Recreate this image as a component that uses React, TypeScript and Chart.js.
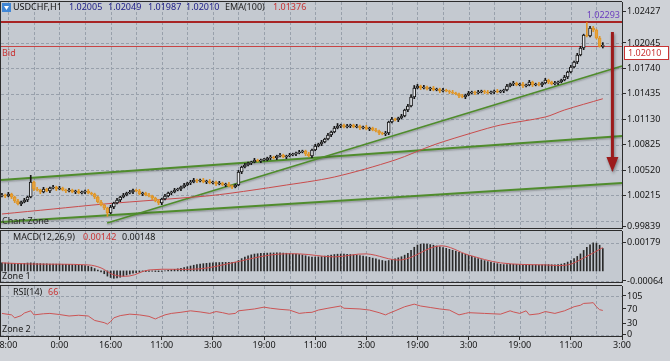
import React, { useEffect, useRef } from 'react';
import { Chart, registerables } from 'chart.js';

Chart.register(...registerables);

const FONT = '"Noto Sans", "DejaVu Sans", sans-serif';
const PIP = 0.0001;

// ---------------- data ----------------
const firstBar = -2; // bar index of the first candle (bar 0 = "8:00")
const firstOpen = 1.00209;
const closes = [
  1.00221, 1.00209, 1.00233, 1.00197, 1.00149, 1.00113, 1.00137, 1.00161, 1.00197, 1.00377,
  1.00293, 1.00281, 1.00257, 1.00293, 1.00269, 1.00305, 1.00317, 1.00293, 1.00305, 1.00281,
  1.00269, 1.00281, 1.00257, 1.00269, 1.00245, 1.00257, 1.00269, 1.00245, 1.00233, 1.00197,
  1.00137, 1.00101, 1.00065, 1.00005, 1.00077, 1.00125, 1.00161, 1.00197, 1.00221, 1.00245,
  1.00257, 1.00281, 1.00269, 1.00233, 1.00245, 1.00221, 1.00209, 1.00185, 1.00149, 1.00125,
  1.00173, 1.00209, 1.00245, 1.00257, 1.00281, 1.00293, 1.00317, 1.00341, 1.00365, 1.00377,
  1.00401, 1.00389, 1.00401, 1.00377, 1.00389, 1.00365, 1.00377, 1.00353, 1.00365, 1.00341,
  1.00353, 1.00329, 1.00317, 1.00341, 1.00497, 1.00557, 1.00581, 1.00605, 1.00617, 1.00641,
  1.00629, 1.00641, 1.00641, 1.00665, 1.00677, 1.00665, 1.00689, 1.00701, 1.00677, 1.00689,
  1.00701, 1.00713, 1.00725, 1.00737, 1.00749, 1.00713, 1.00689, 1.00761, 1.00809, 1.00833,
  1.00857, 1.00893, 1.00941, 1.00977, 1.01025, 1.01049, 1.01061, 1.01037, 1.01049, 1.01061,
  1.01037, 1.01049, 1.01025, 1.01037, 1.01013, 1.01025, 1.01001, 1.00989, 1.00965, 1.00953,
  1.00965, 1.01097, 1.01133, 1.01121, 1.01145, 1.01169, 1.01241, 1.01289, 1.01397, 1.01505,
  1.01529, 1.01505, 1.01517, 1.01493, 1.01505, 1.01481, 1.01493, 1.01469, 1.01481, 1.01469,
  1.01457, 1.01445, 1.01433, 1.01409, 1.01397, 1.01421, 1.01445, 1.01457, 1.01445, 1.01457,
  1.01469, 1.01457, 1.01445, 1.01457, 1.01469, 1.01457, 1.01469, 1.01481, 1.01529, 1.01553,
  1.01565, 1.01541, 1.01553, 1.01529, 1.01541, 1.01577, 1.01541, 1.01553, 1.01541, 1.01565,
  1.01601, 1.01577, 1.01553, 1.01565, 1.01577, 1.01601, 1.01637, 1.01697, 1.01757, 1.01817,
  1.01901, 1.01985, 1.02141, 1.02129, 1.02225, 1.02201, 1.02105, 1.02005, 1.02010,
];
const upperWickPips = [
  2, 1, 2, 1, 1, 2, 1, 2, 1, 8,
  1, 2, 1, 2, 1, 1, 2, 1, 2, 1,
  1, 2, 1, 1, 2, 1, 1, 2, 1, 1,
  1, 2, 1, 1, 2, 1, 2, 1, 2, 1,
  2, 1, 1, 2, 1, 1, 2, 1, 1, 2,
  1, 2, 1, 1, 2, 1, 1, 2, 1, 2,
  2, 1, 1, 2, 1, 2, 1, 1, 2, 1,
  1, 2, 1, 1, 2, 1, 2, 1, 1, 2,
  1, 1, 2, 1, 2, 1, 1, 2, 1, 1,
  2, 1, 1, 2, 1, 1, 2, 1, 2, 1,
  2, 1, 2, 1, 2, 3, 1, 1, 2, 1,
  1, 2, 1, 1, 2, 1, 1, 2, 1, 1,
  2, 1, 2, 1, 1, 2, 1, 2, 3, 3,
  2, 1, 2, 1, 1, 2, 1, 1, 2, 1,
  1, 2, 1, 1, 2, 1, 2, 1, 1, 2,
  1, 1, 2, 1, 1, 2, 1, 1, 2, 1,
  2, 1, 1, 2, 1, 2, 1, 1, 2, 1,
  2, 1, 1, 2, 1, 1, 2, 1, 2, 1,
  2, 2, 1, 15, 2, 2, 1, 2, 4,
];
const lowerWickPips = [
  1, 2, 1, 2, 2, 1, 2, 1, 2, 1,
  2, 1, 2, 1, 1, 2, 1, 2, 1, 1,
  2, 1, 1, 2, 1, 1, 2, 1, 1, 2,
  1, 1, 2, 4, 1, 2, 1, 2, 1, 1,
  1, 2, 1, 1, 2, 1, 1, 2, 1, 2,
  2, 1, 1, 2, 1, 1, 2, 1, 1, 2,
  1, 2, 1, 1, 2, 1, 1, 2, 1, 1,
  2, 1, 2, 1, 1, 2, 1, 1, 2, 1,
  1, 2, 1, 1, 2, 1, 2, 1, 1, 2,
  1, 1, 2, 1, 1, 2, 1, 2, 1, 1,
  2, 1, 1, 2, 1, 1, 2, 1, 1, 2,
  1, 1, 2, 1, 1, 2, 1, 1, 2, 1,
  2, 2, 1, 1, 2, 1, 1, 2, 1, 2,
  1, 2, 1, 1, 2, 1, 1, 2, 1, 1,
  2, 1, 1, 2, 1, 2, 1, 1, 2, 1,
  1, 2, 1, 1, 2, 1, 1, 2, 1, 1,
  2, 1, 1, 2, 1, 1, 2, 1, 1, 2,
  1, 2, 1, 1, 2, 1, 1, 2, 1, 1,
  2, 1, 2, 1, 1, 2, 1, 1, 2,
];

const emaBars = [-2, 14, 30, 46, 62, 70, 85, 102, 121, 133, 146, 154, 168, 174, 186];
const emaValues = [0.99993, 1.00053, 1.00113, 1.00161, 1.00209, 1.00245, 1.00329, 1.00437, 1.00641, 1.00821, 1.00977, 1.01061, 1.01157, 1.01241, 1.01376];

const macdHist = [
  0.00052, 0.0005, 0.00049, 0.00047, 0.00046, 0.00046, 0.00047, 0.00048, 0.0005, 0.00051,
  0.00049, 0.00047, 0.00046, 0.00045, 0.00045, 0.00044, 0.00044, 0.00043, 0.00043, 0.00042,
  0.00042, 0.00041, 0.0004, 0.00039, 0.00038, 0.00036, 0.00033, 0.0003, 0.00024, 0.00015,
  0.00006, -0.00006, -0.00018, -0.00033, -0.00042, -0.00047, -0.00045, -0.0004, -0.00033, -0.00026,
  -0.0002, -0.00015, -0.00011, -0.00008, -0.00005, -0.00004, -0.00003, -0.00002, -0.00004, -0.00005,
  -0.00003, 0.00001, 0.00004, 0.00007, 0.0001, 0.00013, 0.00017, 0.00021, 0.00026, 0.00031,
  0.00036, 0.0004, 0.00044, 0.00046, 0.00048, 0.0005, 0.00052, 0.00053, 0.00053, 0.00054,
  0.00054, 0.00055, 0.00055, 0.00055, 0.00066, 0.00078, 0.00088, 0.00096, 0.00102, 0.00107,
  0.00109, 0.00111, 0.00112, 0.00113, 0.00114, 0.00114, 0.00115, 0.00115, 0.00113, 0.00112,
  0.0011, 0.00108, 0.00106, 0.00104, 0.00101, 0.00096, 0.0009, 0.00088, 0.00088, 0.00089,
  0.00091, 0.00094, 0.00098, 0.00101, 0.00104, 0.00106, 0.00107, 0.00106, 0.00105, 0.00104,
  0.00102, 0.001, 0.00097, 0.00094, 0.0009, 0.00086, 0.00081, 0.00076, 0.00071, 0.00066,
  0.00062, 0.00066, 0.00072, 0.00077, 0.00083, 0.0009, 0.001, 0.00112, 0.0013, 0.0015,
  0.00164, 0.0017, 0.00172, 0.0017, 0.00167, 0.00163, 0.00158, 0.00153, 0.00148, 0.00143,
  0.00137, 0.00131, 0.00125, 0.00118, 0.00111, 0.00105, 0.00099, 0.00092, 0.00085, 0.00078,
  0.00071, 0.00065, 0.00059, 0.00054, 0.0005, 0.00046, 0.00042, 0.0004, 0.0004, 0.00041,
  0.00042, 0.00041, 0.0004, 0.00039, 0.00038, 0.00039, 0.00038, 0.00038, 0.00037, 0.00038,
  0.0004, 0.0004, 0.00039, 0.00039, 0.0004, 0.00043, 0.00048, 0.00056, 0.00066, 0.00078,
  0.00092, 0.00108, 0.0013, 0.0015, 0.00166, 0.00178, 0.00176, 0.00163, 0.00142,
];
const signalBars = [-2, 7, 25, 29, 33, 38, 44, 60, 70, 82, 91, 102, 112, 123, 135, 144, 154, 168, 175, 180, 186];
const signalValues = [0.00051, 0.00044, 0.00038, 0.00019, -0.00025, -0.00032, 0.00006, 0.00013, 0.00051, 0.00101, 0.00108, 0.00089, 0.00108, 0.0007, 0.00159, 0.00101, 0.00051, 0.00038, 0.00038, 0.00082, 0.00148];

const rsiBars = [-2, 1, 2, 4, 5, 7, 8, 11, 13, 16, 19, 22, 25, 27, 30, 31, 32, 33, 35, 38, 41, 44, 46, 47, 49, 51, 54, 57, 60, 63, 65, 67, 69, 71, 72, 75, 77, 80, 82, 85, 88, 91, 93, 95, 97, 100, 104, 105, 110, 113, 116, 118, 119, 121, 124, 127, 129, 132, 135, 138, 141, 143, 144, 149, 154, 157, 158, 160, 162, 163, 166, 168, 171, 174, 177, 179, 180, 182, 183, 184, 185, 186];
const rsiValues = [58, 54, 46, 52, 59, 65, 54, 57, 58, 55, 51, 53, 51, 39, 33, 29, 36, 46, 52, 56, 54, 50, 43, 47, 54, 58, 61, 65, 62, 58, 63, 60, 56, 58, 65, 68, 70, 75, 72, 69, 67, 58, 60, 61, 67, 72, 78, 72, 70, 67, 60, 54, 58, 65, 76, 83, 78, 74, 70, 67, 54, 58, 60, 58, 56, 65, 62, 58, 65, 54, 57, 63, 58, 65, 76, 80, 85, 86, 87, 76, 68, 66];

const priceTicks = [1.02427, 1.02045, 1.0174, 1.01435, 1.0113, 1.00825, 1.0052, 1.00215, 0.99839];
const priceGrid = [1.02045, 1.0174, 1.01435, 1.0113, 1.00825, 1.0052, 1.00215, 0.9991];
const macdTicks = [0.00179, -0.00064];
const rsiTicks = [105, 70, 30, 0];
const rsiGrid = [105, 0];
const timeTickBars = [0, 16, 32, 48, 64, 80, 96, 112, 128, 144, 160, 176, 192];
const timeLabels = ['8:00', '0:00', '16:00', '11:00', '3:00', '19:00', '11:00', '3:00', '19:00', '3:00', '19:00', '11:00', '3:00'];
const gridBars = [0, 8, 16, 24, 32, 40, 48, 56, 64, 72, 80, 88, 96, 104, 112, 120, 128, 136, 144, 152, 160, 168, 176, 184];

// trend lines (bar, price) anchors
const trendFromBar = [-2.3, -2.3, 30.9];
const trendFromPrice = [1.00401, 0.99897, 0.99885];
const trendToBar = [192, 192, 192];
const trendToPrice = [1.00929, 1.00365, 1.01769];

const highLevel = 1.02293;
const bidPrice = 1.0201;
const arrowBar = 189;
const arrowFromPrice = 1.02177;
const arrowToPrice = 1.00497;

const symbolLabel = 'USDCHF,H1';
const headerOHLC = ['1.02005', '1.02049', '1.01987', '1.02010'];
const emaLabel = 'EMA(100)';
const emaLast = '1.01376';
const macdLabel = 'MACD(12,26,9)';
const macdMain = '0.00142';
const macdSignal = '0.00148';
const rsiLabel = 'RSI(14)';
const rsiLast = '66';

// ---------------- styles ----------------
const X_MIN = -2.3;
const X_MAX = 192;
const PANEL_BG = '#c4c9d0';
const PAGE_BG = '#cfd2d7';
const GRID = '#98a0ab';
const FRAME = '#2c2c2c';
const BULL_LINE = '#151515';
const BULL_FILL = '#e6e8ec';
const BEAR_FILL = '#e8a23a';
const BEAR_EDGE = '#df9628';
const RED = '#c83434';
const TEXT = '#151515';

const candleIdx = closes.map((_, k) => firstBar + k);
const opens = closes.map((c, k) => (k === 0 ? firstOpen : closes[k - 1]));
const highs = closes.map((c, k) => Math.max(opens[k], c) + upperWickPips[k] * PIP);
const lows = closes.map((c, k) => Math.min(opens[k], c) - lowerWickPips[k] * PIP);
const isBull = closes.map((c, k) => c >= opens[k]);

function txt(ctx: CanvasRenderingContext2D, s: string, x: number, y: number, color: string, align: CanvasTextAlign = 'left', size = 9) {
  ctx.save();
  ctx.font = `${size}px ${FONT}`;
  ctx.fillStyle = color;
  ctx.textAlign = align;
  ctx.textBaseline = 'middle';
  ctx.fillText(s, x, y);
  ctx.restore();
}

function panelPlugin(id: string, hGrid: number[], before?: (c: any) => void, after?: (c: any) => void) {
  return {
    id,
    beforeDraw(chart: any) {
      const { ctx, chartArea: a } = chart;
      ctx.save();
      ctx.fillStyle = PANEL_BG;
      ctx.fillRect(a.left, a.top, a.right - a.left, a.bottom - a.top);
      ctx.restore();
    },
    beforeDatasetsDraw(chart: any) {
      const { ctx, chartArea: a, scales } = chart;
      ctx.save();
      ctx.strokeStyle = GRID;
      ctx.lineWidth = 1;
      ctx.setLineDash([3, 2]);
      ctx.beginPath();
      gridBars.forEach((b) => {
        const px = Math.round(scales.x.getPixelForValue(b)) + 0.5;
        ctx.moveTo(px, a.top);
        ctx.lineTo(px, a.bottom);
      });
      hGrid.forEach((v) => {
        const py = Math.round(scales.y.getPixelForValue(v)) + 0.5;
        ctx.moveTo(a.left, py);
        ctx.lineTo(a.right, py);
      });
      ctx.stroke();
      ctx.restore();
      if (before) before(chart);
    },
    afterDraw(chart: any) {
      const { ctx, chartArea: a } = chart;
      if (after) after(chart);
      ctx.save();
      ctx.strokeStyle = FRAME;
      ctx.lineWidth = 1;
      ctx.beginPath();
      ctx.moveTo(0, a.top - 0.5);
      ctx.lineTo(a.right, a.top - 0.5);
      ctx.moveTo(0, a.bottom + 0.5);
      ctx.lineTo(a.right, a.bottom + 0.5);
      ctx.moveTo(0.5, a.top);
      ctx.lineTo(0.5, a.bottom);
      ctx.stroke();
      ctx.restore();
    },
  };
}

function yAxis(min: number, max: number, ticks: number[], fmt: (v: number) => string) {
  return {
    type: 'linear',
    position: 'right',
    min,
    max,
    afterBuildTicks: (s: any) => {
      s.ticks = ticks.map((v) => ({ value: v }));
    },
    afterFit: (s: any) => {
      s.width = 48;
      s.paddingTop = 0;
      s.paddingBottom = 0;
    },
    ticks: {
      autoSkip: false,
      padding: 1,
      color: TEXT,
      font: { family: FONT, size: 9 },
      callback: (v: any) => fmt(Number(v)),
    },
    grid: { drawOnChartArea: false, drawTicks: true, tickLength: 4, tickColor: FRAME, tickWidth: 1 },
    border: { display: true, color: FRAME, width: 1 },
  };
}

const hiddenX = { type: 'linear', min: X_MIN, max: X_MAX, offset: false, display: false };

const baseOptions = {
  responsive: false,
  maintainAspectRatio: false,
  animation: false,
  devicePixelRatio: 1,
  events: [],
  plugins: { legend: { display: false }, tooltip: { enabled: false }, title: { display: false } },
};

function drawMainOverlay(chart: any) {
  const { ctx, chartArea: a, scales } = chart;
  const x = scales.x;
  const y = scales.y;
  // trend lines
  ctx.save();
  ctx.strokeStyle = '#4f8c2c';
  ctx.lineWidth = 1.8;
  ctx.shadowColor = 'rgba(40,40,40,0.28)';
  ctx.shadowBlur = 1.5;
  ctx.shadowOffsetY = 1.5;
  trendFromBar.forEach((b, k) => {
    ctx.beginPath();
    ctx.moveTo(x.getPixelForValue(b), y.getPixelForValue(trendFromPrice[k]));
    ctx.lineTo(x.getPixelForValue(trendToBar[k]), y.getPixelForValue(trendToPrice[k]));
    ctx.stroke();
  });
  ctx.restore();
  // high level line
  ctx.save();
  ctx.strokeStyle = '#a82424';
  ctx.lineWidth = 2;
  const hy = Math.round(y.getPixelForValue(highLevel));
  ctx.beginPath();
  ctx.moveTo(a.left, hy);
  ctx.lineTo(a.right, hy);
  ctx.stroke();
  // bid line
  ctx.strokeStyle = '#c84444';
  ctx.lineWidth = 1;
  const by = Math.round(y.getPixelForValue(bidPrice)) + 0.5;
  ctx.beginPath();
  ctx.moveTo(a.left, by);
  ctx.lineTo(a.right, by);
  ctx.stroke();
  ctx.restore();
}

function drawMainTexts(chart: any) {
  const { ctx, scales } = chart;
  const x = scales.x;
  const y = scales.y;
  // arrow
  const ax = x.getPixelForValue(arrowBar);
  const ay1 = y.getPixelForValue(arrowFromPrice);
  const ay2 = y.getPixelForValue(arrowToPrice);
  ctx.save();
  ctx.shadowColor = 'rgba(20,20,20,0.4)';
  ctx.shadowBlur = 3;
  ctx.shadowOffsetX = 1;
  ctx.shadowOffsetY = 2;
  ctx.strokeStyle = '#9c1b1b';
  ctx.fillStyle = '#9c1b1b';
  ctx.lineWidth = 3;
  ctx.beginPath();
  ctx.moveTo(ax, ay1);
  ctx.lineTo(ax, ay2 - 12);
  ctx.stroke();
  ctx.beginPath();
  ctx.moveTo(ax - 6, ay2 - 15);
  ctx.lineTo(ax + 6, ay2 - 15);
  ctx.lineTo(ax, ay2);
  ctx.closePath();
  ctx.fill();
  ctx.restore();

  // header icon
  ctx.save();
  ctx.fillStyle = '#3f86d6';
  ctx.fillRect(2, 3, 9, 9);
  ctx.fillStyle = '#ffffff';
  ctx.beginPath();
  ctx.moveTo(4, 6);
  ctx.lineTo(9, 6);
  ctx.lineTo(6.5, 10);
  ctx.closePath();
  ctx.fill();
  ctx.restore();

  txt(ctx, symbolLabel, 13, 7, '#111');
  const hx = [69, 108, 148, 186];
  headerOHLC.forEach((s, k) => txt(ctx, s, hx[k], 7, '#22228a'));
  txt(ctx, emaLabel, 225, 7, '#222');
  txt(ctx, emaLast, 273, 7, RED);

  txt(ctx, 'Bid', 2, 53, RED);
  txt(ctx, highLevel.toFixed(5), 620, 15, '#6b3dbf', 'right');
  txt(ctx, 'Chart Zone', 2, 221, '#2a2a2a');

  // bid price box on the axis
  const by = Math.round(y.getPixelForValue(bidPrice));
  ctx.save();
  ctx.fillStyle = '#ffffff';
  ctx.fillRect(624, by, 45, 14);
  ctx.strokeStyle = RED;
  ctx.lineWidth = 1;
  ctx.strokeRect(624.5, by + 0.5, 44, 13);
  ctx.restore();
  txt(ctx, bidPrice.toFixed(5), 628, by + 7.5, RED);
}

export default function App() {
  const r1 = useRef<HTMLCanvasElement>(null);
  const r2 = useRef<HTMLCanvasElement>(null);
  const r3 = useRef<HTMLCanvasElement>(null);

  useEffect(() => {
    const main = new Chart(r1.current as HTMLCanvasElement, {
      type: 'bar',
      data: {
        datasets: [
          {
            type: 'line',
            label: emaLabel,
            data: emaBars.map((b, k) => ({ x: b, y: emaValues[k] })),
            borderColor: '#c94c4c',
            borderWidth: 1,
            pointRadius: 0,
            tension: 0.3,
            order: 4,
          },
          {
            type: 'bar',
            label: 'wicks',
            data: candleIdx.map((b, k) => ({ x: b, y: [lows[k], highs[k]] })),
            backgroundColor: isBull.map((u) => (u ? BULL_LINE : BEAR_EDGE)),
            barThickness: 1,
            grouped: false,
            order: 3,
          },
          {
            type: 'bar',
            label: 'bodies',
            data: candleIdx.map((b, k) => ({ x: b, y: [opens[k], closes[k]] })),
            backgroundColor: isBull.map((u) => (u ? BULL_FILL : BEAR_FILL)),
            borderColor: isBull.map((u) => (u ? BULL_LINE : BEAR_EDGE)),
            borderWidth: 1,
            borderSkipped: false,
            barThickness: 3,
            minBarLength: 1,
            grouped: false,
            order: 2,
          },
        ],
      } as any,
      options: {
        ...baseOptions,
        layout: { padding: { left: 1, top: 2, bottom: 4, right: 0 } },
        scales: {
          x: hiddenX,
          y: yAxis(0.99825, 1.02537, priceTicks, (v) => v.toFixed(5)),
        },
      } as any,
      plugins: [panelPlugin('mainPanel', priceGrid, drawMainOverlay, drawMainTexts)],
    });

    const macd = new Chart(r2.current as HTMLCanvasElement, {
      type: 'bar',
      data: {
        datasets: [
          {
            type: 'line',
            label: 'signal',
            data: signalBars.map((b, k) => ({ x: b, y: signalValues[k] })),
            borderColor: '#cc4f4f',
            borderWidth: 1,
            pointRadius: 0,
            tension: 0.35,
            order: 1,
          },
          {
            type: 'bar',
            label: 'macd',
            data: candleIdx.map((b, k) => ({ x: b, y: macdHist[k] })),
            backgroundColor: '#2a2a2a',
            barThickness: 1,
            grouped: false,
            order: 2,
          },
        ],
      } as any,
      options: {
        ...baseOptions,
        layout: { padding: { left: 1, top: 3, bottom: 4, right: 0 } },
        scales: {
          x: hiddenX,
          y: yAxis(-0.000704, 0.002532, macdTicks, (v) => v.toFixed(5)),
        },
      } as any,
      plugins: [
        panelPlugin('macdPanel', macdTicks, undefined, (chart: any) => {
          const { ctx } = chart;
          txt(ctx, macdLabel, 13, 9, '#1a1a1a');
          txt(ctx, macdMain, 83, 9, RED);
          txt(ctx, macdSignal, 122, 9, '#1a1a1a');
          txt(ctx, 'Zone 1', 2, 48, '#1a1a1a');
        }),
      ],
    });

    const rsi = new Chart(r3.current as HTMLCanvasElement, {
      type: 'line',
      data: {
        datasets: [
          {
            label: rsiLabel,
            data: rsiBars.map((b, k) => ({ x: b, y: rsiValues[k] })),
            borderColor: '#cc5555',
            borderWidth: 1,
            pointRadius: 0,
            tension: 0,
          },
        ],
      } as any,
      options: {
        ...baseOptions,
        layout: { padding: { left: 1, top: 4, bottom: 0, right: 0 } },
        scales: {
          x: {
            type: 'linear',
            position: 'bottom',
            min: X_MIN,
            max: X_MAX,
            offset: false,
            afterBuildTicks: (s: any) => {
              s.ticks = timeTickBars.map((v) => ({ value: v }));
            },
            afterFit: (s: any) => {
              s.height = 25;
              s.paddingLeft = 0;
              s.paddingRight = 0;
            },
            ticks: {
              autoSkip: false,
              maxRotation: 0,
              minRotation: 0,
              padding: 0,
              color: TEXT,
              font: { family: FONT, size: 9 },
              callback: (_v: any, i: number) => timeLabels[i],
            },
            grid: { drawOnChartArea: false, drawTicks: true, tickLength: 4, tickColor: FRAME },
            border: { display: true, color: FRAME, width: 1 },
          },
          y: yAxis(-3, 132, rsiTicks, (v) => String(Math.round(v))),
        },
      } as any,
      plugins: [
        panelPlugin('rsiPanel', rsiGrid, undefined, (chart: any) => {
          const { ctx } = chart;
          txt(ctx, rsiLabel, 13, 10, '#1a1a1a');
          txt(ctx, rsiLast, 48, 10, RED);
          txt(ctx, 'Zone 2', 2, 47, '#1a1a1a');
        }),
      ],
    });

    return () => {
      main.destroy();
      macd.destroy();
      rsi.destroy();
    };
  }, []);

  return (
    <div style={{ position: 'absolute', left: 0, top: 0, width: 670, height: 361, background: PAGE_BG, overflow: 'hidden' }}>
      <canvas ref={r1} width={670} height={232} style={{ position: 'absolute', left: 0, top: 0 }} />
      <canvas ref={r2} width={670} height={58} style={{ position: 'absolute', left: 0, top: 228 }} />
      <canvas ref={r3} width={670} height={79} style={{ position: 'absolute', left: 0, top: 282 }} />
    </div>
  );
}
